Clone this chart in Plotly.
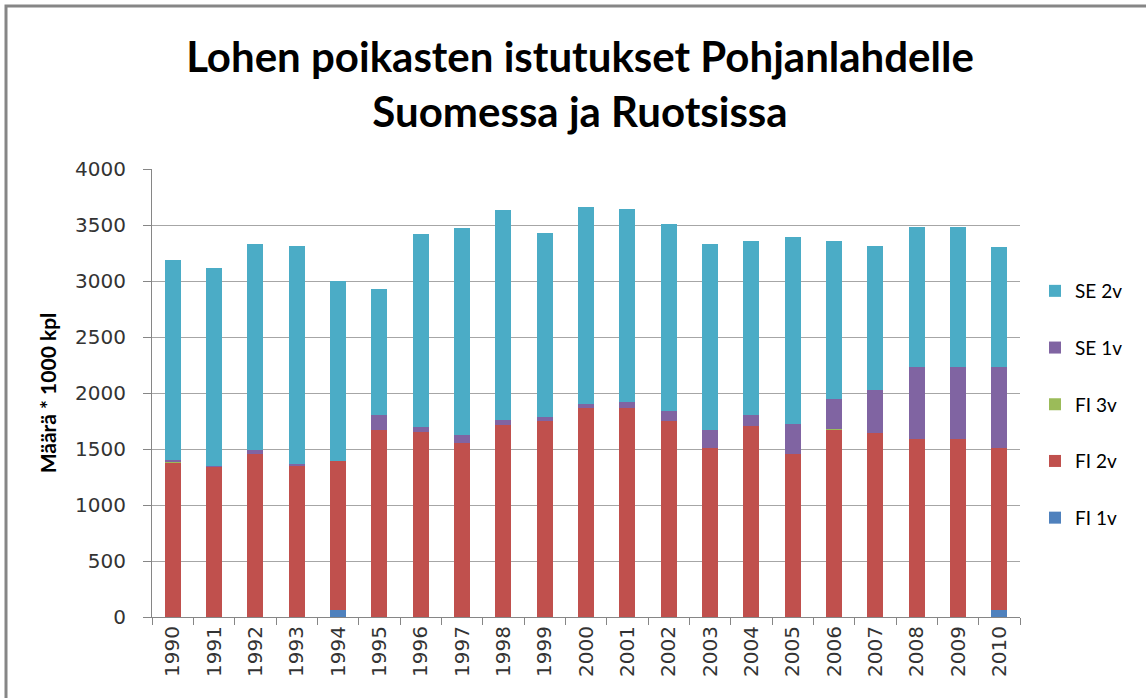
import plotly.graph_objects as go

years = [str(y) for y in range(1990, 2011)]
fi1v = [0, 0, 0, 0, 65, 0, 0, 0, 0, 0, 0, 0, 0, 0, 0, 0, 0, 0, 0, 0, 65]
fi2v = [1380, 1342, 1455, 1357, 1325, 1673, 1652, 1551, 1714, 1747, 1869, 1869, 1747, 1509, 1705, 1455, 1673, 1640, 1586, 1586, 1444]
fi3v = [10, 0, 0, 0, 0, 0, 0, 0, 0, 0, 0, 0, 0, 0, 0, 0, 10, 0, 0, 0, 0]
se1v = [15, 10, 33, 12, 0, 128, 44, 77, 48, 36, 36, 54, 89, 164, 96, 271, 260, 390, 649, 649, 726]
se2v = [1785, 1764, 1842, 1941, 1613, 1128, 1721, 1845, 1875, 1649, 1753, 1723, 1670, 1657, 1553, 1670, 1411, 1280, 1247, 1247, 1066]

series = [
    ("FI 1v", fi1v, "#4F81BD"),
    ("FI 2v", fi2v, "#C0504D"),
    ("FI 3v", fi3v, "#9BBB59"),
    ("SE 1v", se1v, "#8064A2"),
    ("SE 2v", se2v, "#4BACC6"),
]

fig = go.Figure()
n = len(series)
for i, (name, vals, col) in enumerate(series):
    fig.add_trace(go.Bar(x=years, y=vals, name=name, legendgroup=name,
                         legendrank=n - i,
                         marker=dict(color=col, line=dict(width=0))))

W, H = 1146, 698
L, R, T, B = 152, 1020, 169, 617

def px(x):
    return (x - L) / (R - L)

def py(y):
    return (B - y) / (B - T)

fig.update_layout(
    width=W, height=H,
    margin=dict(l=L, r=W - R, t=T, b=H - B),
    paper_bgcolor="white", plot_bgcolor="white",
    barmode="stack", bargap=0.62,
    title=dict(text="Lohen poikasten istutukset Pohjanlahdelle<br>Suomessa ja Ruotsissa",
               font=dict(family="Lato", size=42, color="black", weight="bold"),
               x=580 / W, xanchor="center", y=1 - 72 / H, yanchor="middle",
               xref="container", yref="container"),
    legend=dict(traceorder="grouped", tracegroupgap=29,
                x=px(1035), xanchor="left", y=py(272), yanchor="top",
                font=dict(family="Lato", size=19, color="black"),
                itemwidth=30, bgcolor="rgba(0,0,0,0)"),
    font=dict(family="DejaVu Sans", color="#333333"),
)

fig.update_xaxes(type="category", tickson="boundaries", ticks="outside", ticklen=7,
                 tickcolor="#868686", showline=True, linecolor="#868686", linewidth=1,
                 tickangle=-90, tickfont=dict(family="DejaVu Sans", size=20, color="#333333"),
                 showgrid=False)
fig.update_yaxes(range=[0, 4000], dtick=500, tick0=0, ticks="outside", ticklen=8,
                 tickcolor="#868686", showline=True, linecolor="#868686", linewidth=1,
                 showgrid=True, gridcolor="#A6A6A6", gridwidth=1,
                 tickfont=dict(family="DejaVu Sans", size=20, color="#333333"),
                 ticklabelstandoff=13, zeroline=False,
                 title=dict(text="Määrä * 1000 kpl", standoff=12,
                            font=dict(family="Lato", size=21, color="black", weight="bold")))

fig.add_shape(type="rect", xref="paper", yref="paper",
              x0=px(6), x1=px(1160), y0=py(712), y1=py(6),
              line=dict(color="#868686", width=3), fillcolor="rgba(0,0,0,0)", layer="above")

fig.write_html("out.html", config={"displayModeBar": False},
               post_script="document.body.style.margin='0px';")
